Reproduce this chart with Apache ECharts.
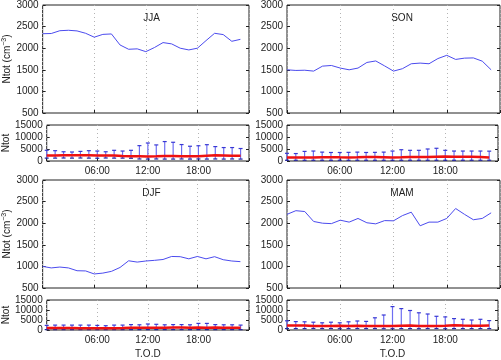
<!DOCTYPE html>
<html>
<head>
<meta charset="utf-8">
<script src="https://cdn.jsdelivr.net/npm/echarts@6/dist/echarts.min.js"></script>
<style>
html,body{margin:0;padding:0;background:#fff}
#box_ntot{width:501px;height:360px}
</style>
</head>
<body>
<div id="box_ntot"></div>
<script>
var hours = [0,1,2,3,4,5,6,7,8,9,10,11,12,13,14,15,16,17,18,19,20,21,22,23];
var hourTicks = [6, 12, 18];

var jjaMean = [2335,2340,2405,2415,2400,2345,2255,2320,2330,2075,1975,1985,1920,2015,2130,2100,2000,1960,2000,2175,2345,2315,2160,2205];
var sonMean = [1500,1485,1490,1470,1585,1600,1540,1500,1540,1670,1705,1590,1470,1525,1640,1655,1640,1760,1835,1740,1770,1775,1700,1500];
var djfMean = [1000,965,985,965,900,895,825,845,885,975,1130,1100,1125,1140,1160,1230,1225,1175,1230,1175,1225,1155,1125,1110];
var mamMean = [2205,2290,2270,2040,2000,1990,2070,2025,2110,2010,1985,2060,2055,2175,2255,1940,2025,2025,2110,2340,2205,2080,2110,2240];

var jjaHigh = [4450,4300,3850,3750,4000,4300,4150,3850,4450,4150,4450,6400,7500,6700,8100,7800,6850,6150,6350,6800,6000,5600,5600,5200];
var jjaLow  = [1200,1200,1250,1200,1250,1200,1150,1250,1200,1200,1150,850,800,850,800,800,850,800,850,800,850,800,850,800];
var sonHigh = [3200,3100,4000,4150,3700,3550,3550,3600,3700,3550,3600,3700,4150,4700,4450,4450,5000,5300,4450,4150,4150,4150,4150,4100];
var sonLow  = [300,300,300,300,300,300,300,300,300,300,300,300,300,300,300,300,300,300,300,300,300,300,300,300];
var djfHigh = [2300,2450,2450,2450,2450,2450,2300,2150,2450,2450,2700,2600,3000,2850,2600,2700,2700,2600,3300,3300,2700,2600,2600,2450];
var djfLow  = [200,200,200,200,200,200,200,200,200,200,200,200,200,200,200,200,200,200,200,200,200,200,200,200];
var mamHigh = [4600,4200,4100,3900,3600,3900,3600,4100,4500,4300,6100,7500,11700,10700,9750,8600,8000,6850,6550,5700,5350,5000,5350,4700];
var mamLow  = [700,700,700,750,700,700,650,700,700,700,700,650,650,700,700,650,700,700,650,700,700,700,700,700];

var myChart = echarts.init(document.getElementById('box_ntot'));

var font = 'Liberation Sans';
var panels = [
  {name: 'JJA', mean: jjaMean, low: jjaLow, high: jjaHigh, left: 37, width: 212, top: 5, label: true, tod: false},
  {name: 'SON', mean: sonMean, low: sonLow, high: sonHigh, left: 287, width: 213, top: 5, label: false, tod: false},
  {name: 'DJF', mean: djfMean, low: djfLow, high: djfHigh, left: 37, width: 212, top: 180, label: true, tod: true},
  {name: 'MAM', mean: mamMean, low: mamLow, high: mamHigh, left: 287, width: 213, top: 180, label: false, tod: true}
];

function hourLabel(v) {
  if (hourTicks.indexOf(v) < 0) return '';
  return (v < 10 ? '0' + v : '' + v) + ':00';
}

function errorBars(params, api) {
  var x = api.value(0);
  var lo = api.coord([x, api.value(1)]);
  var hi = api.coord([x, api.value(2)]);
  var w = 2;
  return {
    type: 'group',
    children: [
      {type: 'line', shape: {x1: hi[0], y1: hi[1], x2: lo[0], y2: lo[1]}, style: {stroke: '#6e6ef2', lineWidth: 1.2}},
      {type: 'line', shape: {x1: hi[0] - w, y1: hi[1], x2: hi[0] + w, y2: hi[1]}, style: {stroke: '#3838d4', lineWidth: 1.2}},
      {type: 'line', shape: {x1: lo[0] - w, y1: lo[1], x2: lo[0] + w, y2: lo[1]}, style: {stroke: '#2424a0', lineWidth: 1.2}}
    ]
  };
}

var grids = [], xAxes = [], yAxes = [], series = [], texts = [];

panels.forEach(function (p) {
  var boxes = [
    {top: p.top, height: 108, min: 500, max: 3000, step: 500, big: true},
    {top: p.top + 120, height: 36, min: 0, max: 15000, step: 5000, big: false}
  ];
  boxes.forEach(function (b) {
    var gi = grids.length;
    grids.push({left: p.left, width: p.width, top: b.top, height: b.height,
      show: true, borderColor: '#222', borderWidth: 1, backgroundColor: '#fff'});
    xAxes.push({
      type: 'value', gridIndex: gi, min: 0, max: 24, interval: 6,
      axisLine: {show: false},
      axisTick: {show: true, inside: true, length: 3, lineStyle: {color: '#222'}},
      splitLine: {show: true, lineStyle: {type: [1, 3], color: '#b4b4b4'}},
      axisLabel: {show: !b.big, formatter: hourLabel, color: '#222', fontFamily: font, fontSize: 10, margin: 5},
      name: (!b.big && p.tod) ? 'T.O.D' : '',
      nameLocation: 'middle', nameGap: 19,
      nameTextStyle: {color: '#222', fontFamily: font, fontSize: 10}
    });
    var yName = '';
    if (p.label) yName = b.big ? 'Ntot (cm{sup|\u22123})' : 'Ntot';
    yAxes.push({
      type: 'value', gridIndex: gi, position: 'left', min: b.min, max: b.max, interval: b.step,
      axisLine: {show: false},
      axisTick: {show: true, inside: true, length: 3, lineStyle: {color: '#222'}},
      splitLine: {show: false},
      axisLabel: {color: '#222', fontFamily: font, fontSize: 10, margin: 4,
        formatter: function (v) { return String(v); }},
      name: yName, nameLocation: 'middle', nameRotate: 90, nameGap: b.big ? 28 : 31,
      nameTextStyle: {color: '#222', fontFamily: font, fontSize: 10,
        rich: {sup: {fontSize: 7, fontFamily: font, color: '#222', padding: [0, 0, 6, 0]}}}
    });
    yAxes.push({
      type: 'value', gridIndex: gi, position: 'right', min: b.min, max: b.max, interval: b.step,
      axisLine: {show: false},
      axisTick: {show: true, inside: true, length: 3, lineStyle: {color: '#222'}},
      splitLine: {show: false}, axisLabel: {show: false}
    });
    var yi = yAxes.length - 2;
    var pts = hours.map(function (h, i) { return [h, p.mean[i]]; });
    if (b.big) {
      series.push({type: 'line', xAxisIndex: gi, yAxisIndex: yi, data: pts, symbol: 'none',
        lineStyle: {color: '#4b4bee', width: 1}, z: 3});
    } else {
      series.push({type: 'custom', xAxisIndex: gi, yAxisIndex: yi, renderItem: errorBars, z: 2,
        data: hours.map(function (h, i) { return [h, p.low[i], p.high[i]]; })});
      series.push({type: 'line', xAxisIndex: gi, yAxisIndex: yi, data: pts, symbol: 'none',
        lineStyle: {color: '#ee1111', width: 2.5}, z: 4});
    }
  });
  texts.push({type: 'text', x: p.left + p.width * 0.54, y: p.top + 13,
    style: {text: p.name, fill: '#222', font: '10px "' + font + '"', align: 'center', verticalAlign: 'middle'}, z: 10});
});

var option = {
  animation: false,
  backgroundColor: '#fff',
  grid: grids,
  xAxis: xAxes,
  yAxis: yAxes,
  series: series,
  graphic: texts
};
myChart.setOption(option);
</script>
</body>
</html>
